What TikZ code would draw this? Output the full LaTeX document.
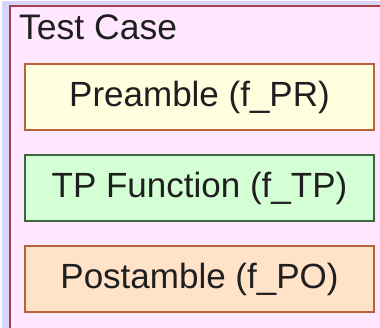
\documentclass[tikz,border=0pt]{standalone}
\usepackage{fontspec}
\setmainfont{Liberation Sans}
\definecolor{frameblue}{HTML}{D6D6FA}
\definecolor{casepink}{HTML}{FFE8FF}
\definecolor{caseline}{HTML}{A8404A}
\definecolor{prefill}{HTML}{FFFFE0}
\definecolor{preline}{HTML}{B8643A}
\definecolor{tpfill}{HTML}{D4FFD4}
\definecolor{tpline}{HTML}{3A6A3A}
\definecolor{postfill}{HTML}{FFE2C8}
\definecolor{postline}{HTML}{B8643A}
\tikzset{
  stepbox/.style={draw, line width=2pt, minimum width=349pt, minimum height=66pt,
    inner sep=0pt, font=\fontsize{35}{40}\selectfont, text=black!88},
}
\begin{document}
\begin{tikzpicture}[x=1pt,y=1pt]
  \useasboundingbox (0,0) rectangle (380,328);
  \fill[white] (0,0) rectangle (380,328);
  \fill[frameblue] (2,0) rectangle (380,327);
  % test case container, open to the right and bottom
  \fill[casepink] (10,0) rectangle (380,322);
  \draw[caseline, line width=2pt] (10,0) -- (10,322) -- (380,322);
  \node[anchor=base west, font=\fontsize{35.5}{40}\selectfont, text=black!88, inner sep=0pt]
    (title) at (19,288) {Test Case};
  \node[stepbox, fill=prefill, draw=preline] (pre) at (199.5,230.5) {Preamble (f\_PR)};
  \node[stepbox, fill=tpfill, draw=tpline] (tp) at (199.5,139.5) {TP Function (f\_TP)};
  \node[stepbox, fill=postfill, draw=postline] (post) at (199.5,49) {Postamble (f\_PO)};
\end{tikzpicture}
\end{document}
